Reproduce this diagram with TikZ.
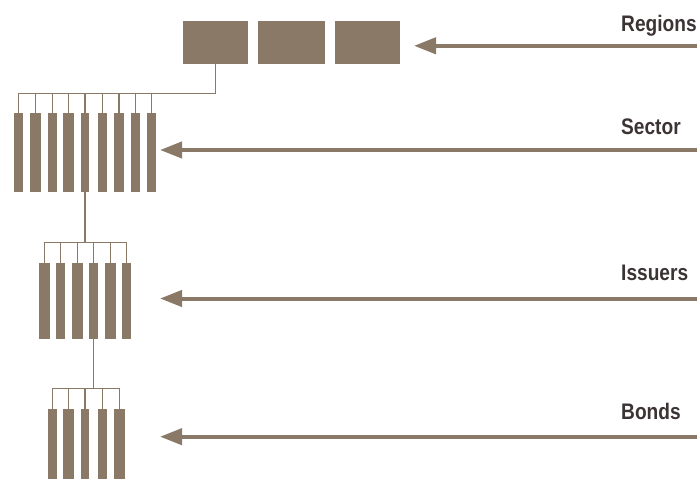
\documentclass[tikz,border=0pt]{standalone}
\usepackage{fontspec}
\usetikzlibrary{arrows.meta}
\newfontfamily\lblfont{Liberation Sans}[FakeStretch=0.85]
\definecolor{brn}{HTML}{8A7967}
\definecolor{txt}{HTML}{3C3434}
\newcommand\mkbox[5]{\node[blk, minimum width={(#3-(#2))*1pt}, minimum height={(#5-(#4))*1pt}] (#1) at ({(#2+#3)/2},{(#4+#5)/2}) {};}
\tikzset{
  blk/.style={fill=brn, draw=none, inner sep=0pt, outer sep=0pt, rectangle},
  conn/.style={draw=brn, line width=1.3pt},
  arr/.style={draw=brn, line width=4pt, -{Triangle[length=22pt,width=16pt]}},
  lbl/.style={text=txt, font=\lblfont\bfseries\fontsize{22.5}{26}\selectfont, inner sep=0pt, anchor=base west}
}
\begin{document}
\begin{tikzpicture}[x=1pt,y=-1pt]
\useasboundingbox (0,0) rectangle (697,482);
% Regions
\mkbox{r1}{183.3}{248}{21}{64.3}
\mkbox{r2}{258}{325}{21}{64.3}
\mkbox{r3}{335}{400}{21}{64.3}
% Sector
\mkbox{s1}{14}{22.7}{113.3}{191.7}
\mkbox{s2}{30.3}{40.7}{113.3}{191.7}
\mkbox{s3}{48}{56.7}{113.3}{191.7}
\mkbox{s4}{63}{73.7}{113.3}{191.7}
\mkbox{s5}{80.7}{89.3}{113.3}{191.7}
\mkbox{s6}{98}{106.7}{113.3}{191.7}
\mkbox{s7}{114}{124}{113.3}{191.7}
\mkbox{s8}{131}{140}{113.3}{191.7}
\mkbox{s9}{147}{156}{113.3}{191.7}
% Issuers
\mkbox{i1}{39}{50}{263.3}{339.3}
\mkbox{i2}{55.7}{65}{263.3}{339.3}
\mkbox{i3}{72}{83}{263.3}{339.3}
\mkbox{i4}{89.3}{98.3}{263.3}{339.3}
\mkbox{i5}{105.3}{115.7}{263.3}{339.3}
\mkbox{i6}{122}{131}{263.3}{339.3}
% Bonds
\mkbox{b1}{48.3}{56.7}{409.3}{479.3}
\mkbox{b2}{63}{74}{409.3}{479.3}
\mkbox{b3}{80.7}{89.3}{409.3}{479.3}
\mkbox{b4}{98}{107}{409.3}{479.3}
\mkbox{b5}{114}{125}{409.3}{479.3}
% bracket levels
\coordinate (bS) at (0,93.3);
\coordinate (bI) at (0,242.3);
\coordinate (bB) at (0,388.7);
% connectors Regions -> Sector
\draw[conn] (r1.south) |- (s1.north |- bS) -- (s1.north);
\foreach \n in {s2,s3,s4,s5,s6,s7,s8,s9} \draw[conn] (\n.north |- bS) -- (\n.north);
% Sector -> Issuers
\draw[conn] (s5.south) -- (s5.south |- bI);
\draw[conn] (i1.north) |- (i6.north |- bI) -- (i6.north);
\foreach \n in {i2,i3,i4,i5} \draw[conn] (\n.north |- bI) -- (\n.north);
% Issuers -> Bonds
\draw[conn] (i4.south) -- (i4.south |- bB);
\draw[conn] (b1.north) |- (b5.north |- bB) -- (b5.north);
\foreach \n in {b2,b3,b4} \draw[conn] (\n.north |- bB) -- (\n.north);
% labels
\node[lbl] (lR) at (621,31.7) {Regions};
\node[lbl] (lS) at (621,134.5) {Sector};
\node[lbl] (lI) at (621,280) {Issuers};
\node[lbl] (lB) at (621,419.5) {Bonds};
% arrows
\coordinate (eR) at (697,45.8);
\coordinate (tR) at (414,45.8);
\coordinate (eS) at (697,150);
\coordinate (tS) at (160,150);
\coordinate (eI) at (697,298.5);
\coordinate (tI) at (160,298.5);
\coordinate (eB) at (697,436.7);
\coordinate (tB) at (160,436.7);
\draw[arr] (eR) -- (tR);
\draw[arr] (eS) -- (tS);
\draw[arr] (eI) -- (tI);
\draw[arr] (eB) -- (tB);
\end{tikzpicture}
\end{document}
